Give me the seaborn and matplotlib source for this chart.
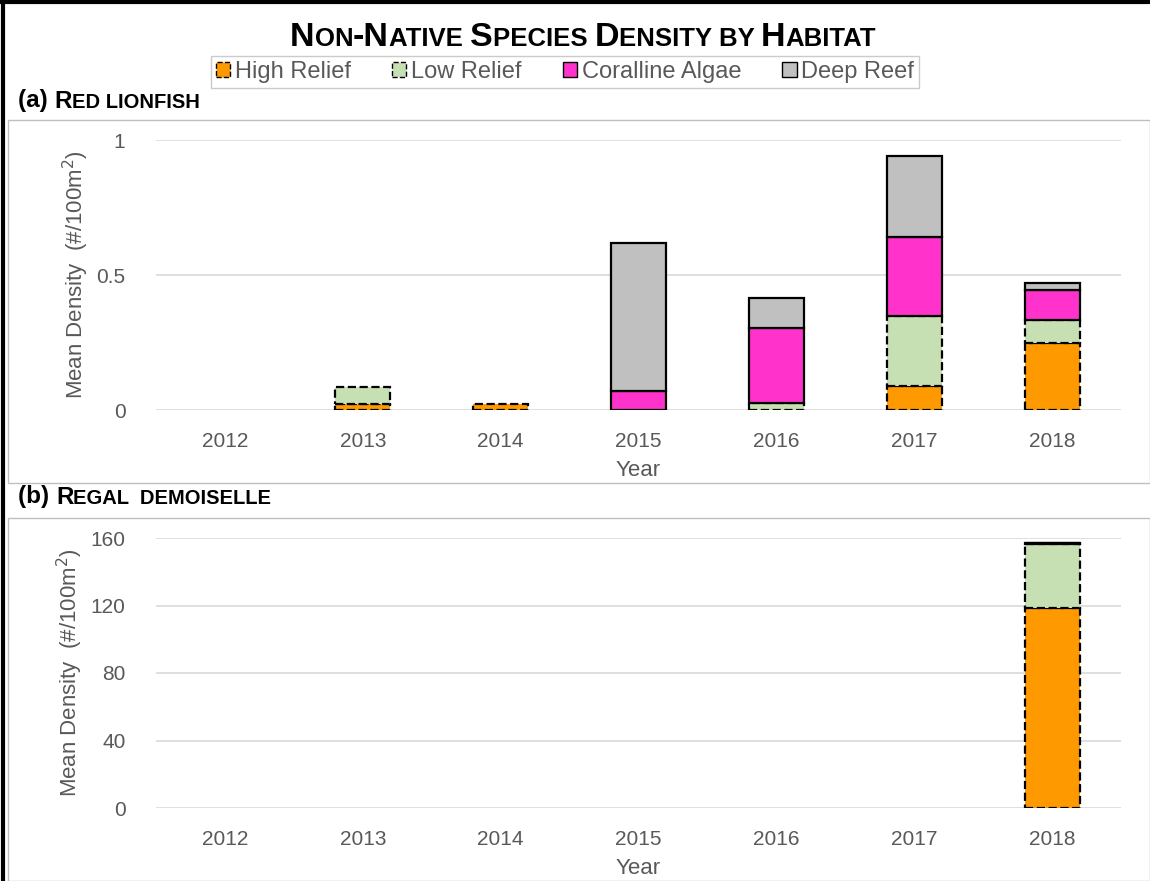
import matplotlib
matplotlib.use("Agg")
import matplotlib.pyplot as plt
import seaborn as sns
import pandas as pd
import numpy as np
from matplotlib.patches import Patch, Rectangle
from matplotlib.lines import Line2D
from matplotlib.offsetbox import TextArea, HPacker, AnchoredOffsetbox
from matplotlib import font_manager

# ---- data -------------------------------------------------------------
years = ["2012", "2013", "2014", "2015", "2016", "2017", "2018"]
habitats = ["High Relief", "Low Relief", "Coralline Algae", "Deep Reef"]

# (a) Red lionfish, mean density (#/100 m2)
lion_high = [0.0, 0.022, 0.022, 0.0, 0.0, 0.090, 0.250]
lion_low = [0.0, 0.063, 0.0, 0.0, 0.026, 0.258, 0.085]
lion_coral = [0.0, 0.0, 0.0, 0.071, 0.278, 0.292, 0.109]
lion_deep = [0.0, 0.0, 0.0, 0.548, 0.111, 0.300, 0.026]

# (b) Regal demoiselle, mean density (#/100 m2)
dem_high = [0.0, 0.0, 0.0, 0.0, 0.0, 0.0, 118.5]
dem_low = [0.0, 0.0, 0.0, 0.0, 0.0, 0.0, 38.0]
dem_coral = [0.0, 0.0, 0.0, 0.0, 0.0, 0.0, 0.3]
dem_deep = [0.0, 0.0, 0.0, 0.0, 0.0, 0.0, 0.3]

lion_ticks = [0, 0.5, 1]
lion_ticklabels = ["0", "0.5", "1"]
dem_ticks = [0, 40, 80, 120, 160]

# ---- style -------------------------------------------------------------
sns.set_theme(style="white")
avail = {f.name for f in font_manager.fontManager.ttflist}
body_font = "Liberation Sans" if "Liberation Sans" in avail else "DejaVu Sans"
plt.rcParams["font.family"] = [body_font, "DejaVu Sans"]

face = {"High Relief": "#FF9900", "Low Relief": "#C6E0B4",
        "Coralline Algae": "#FF33CC", "Deep Reef": "#C0C0C0"}
dash = {"High Relief": "--", "Low Relief": "--",
        "Coralline Algae": "-", "Deep Reef": "-"}
GREY_TXT = "#595959"

W, H = 1150, 881
fig = plt.figure(figsize=(W / 100, H / 100), dpi=100)


def fig_box(x0, y0, x1, y1):
    """Axes rectangle from pixel edges (top-left origin)."""
    return [x0 / W, 1 - y1 / H, (x1 - x0) / W, (y1 - y0) / H]


# panel frames, kept underneath the axes
for (y0, y1) in [(120, 483), (518, 881)]:
    fig.patches.append(Rectangle((8 / W, 1 - y1 / H), (W - 8) / W, (y1 - y0) / H,
                                 transform=fig.transFigure, facecolor="white",
                                 edgecolor="#BFBFBF", lw=1.0, zorder=-5))
# outer black rules
fig.add_artist(Line2D([3 / W, 3 / W], [0, 1], color="black", lw=3, transform=fig.transFigure))
fig.add_artist(Line2D([0, 1], [1 - 2 / H, 1 - 2 / H], color="black", lw=3, transform=fig.transFigure))


def stacked(ax, series, ymax, ticks, ticklabels):
    bottom = np.zeros(len(years))
    for hab, vals in zip(habitats, series):
        df = pd.DataFrame({"Year": years, "Density": vals})
        sns.barplot(data=df, x="Year", y="Density", order=years, ax=ax,
                    color=face[hab], saturation=1, width=0.4, bottom=bottom,
                    edgecolor="black", linewidth=1.6, linestyle=dash[hab],
                    zorder=3)
        bottom = bottom + np.asarray(vals)
    # empty segments should not leave an outline behind
    for p in ax.patches:
        if p.get_height() == 0:
            p.set_visible(False)
    ax.set_xlim(-0.5, len(years) - 0.5)
    ax.set_ylim(0, ymax)
    ax.set_yticks(ticks)
    ax.set_yticklabels(ticklabels)
    ax.yaxis.grid(True, color="#D9D9D9", lw=1.2, zorder=0)
    ax.set_axisbelow(True)
    for s in ax.spines.values():
        s.set_visible(False)
    ax.tick_params(axis="both", length=0, labelsize=15, colors=GREY_TXT)
    ax.tick_params(axis="x", pad=16)
    ax.tick_params(axis="y", pad=22)
    ax.set_xlabel("Year", fontsize=16, color=GREY_TXT, labelpad=6)
    ax.set_ylabel("Mean Density  (#/100m$^2$)", fontsize=16, color=GREY_TXT, labelpad=4)
    ax.patch.set_alpha(0)


ax_a = fig.add_axes(fig_box(156, 140, 1121, 410))
stacked(ax_a, [lion_high, lion_low, lion_coral, lion_deep], 1.0, lion_ticks, lion_ticklabels)

ax_b = fig.add_axes(fig_box(156, 538, 1121, 808))
stacked(ax_b, [dem_high, dem_low, dem_coral, dem_deep], 160, dem_ticks,
        [str(t) for t in dem_ticks])


def small_caps(chunks, x, y, loc="center"):
    """chunks: list of (text, size). Packed side by side on a common baseline."""
    boxes = [TextArea(t, textprops=dict(fontsize=s, fontweight="bold", color="black"))
             for t, s in chunks]
    pack = HPacker(children=boxes, align="baseline", pad=0, sep=0)
    ab = AnchoredOffsetbox(loc=loc, child=pack, pad=0, borderpad=0, frameon=False,
                           bbox_to_anchor=(x / W, 1 - y / H),
                           bbox_transform=fig.transFigure)
    fig.add_artist(ab)


# figure title
B, S = 24.5, 18.5
small_caps([("N", B), ("ON", S), ("-N", B), ("ATIVE ", S), ("S", B), ("PECIES ", S),
            ("D", B), ("ENSITY ", S), ("BY ", S), ("H", B), ("ABITAT", S)],
           583, 37)

# panel titles
small_caps([("(a) ", 17.5), ("R", 17.5), ("ED LIONFISH", 14.5)], 18, 101, loc="center left")
small_caps([("(b) ", 17.5), ("R", 17.5), ("EGAL  DEMOISELLE", 14.5)], 18, 497, loc="center left")

# legend
handles = [Patch(facecolor=face[h], edgecolor="black", lw=1.0,
                 linestyle=dash[h]) for h in habitats]
leg = fig.legend(handles, habitats, loc="center", bbox_to_anchor=(565 / W, 1 - 72 / H),
                 ncol=4, frameon=True, fontsize=17, handlelength=0.6, handleheight=0.6,
                 handletextpad=0.2, columnspacing=1.75, borderpad=0.22,
                 fancybox=False, edgecolor="#BFBFBF")
for t in leg.get_texts():
    t.set_color(GREY_TXT)

fig.savefig("out.png", dpi=100)
